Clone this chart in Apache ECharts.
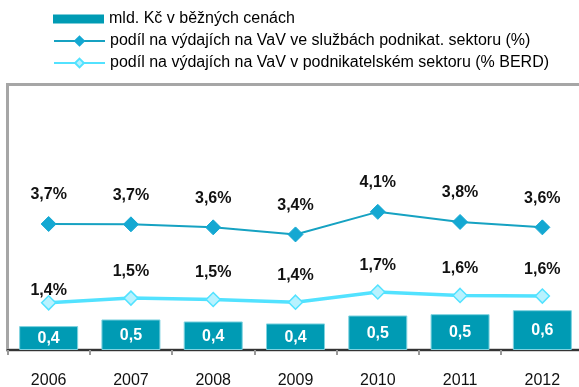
<!DOCTYPE html>
<html>
<head>
<meta charset="utf-8">
<script src="https://cdn.jsdelivr.net/npm/echarts@6/dist/echarts.min.js"></script>
<style>
  html, body { margin: 0; padding: 0; background: #fff; }
  #chart { width: 579px; height: 387px; }
</style>
</head>
<body>
<div id="chart"></div>
<script>
// Years on the category axis
const years = ['2006', '2007', '2008', '2009', '2010', '2011', '2012'];
// Business-sector R&D in services, bn CZK at current prices
const mldKc = [0.36, 0.46, 0.43, 0.40, 0.52, 0.54, 0.60];
// Share of R&D spending in business services (%)
const podilSluzby = [3.74, 3.73, 3.64, 3.43, 4.10, 3.80, 3.64];
// Share of business-sector R&D spending (% BERD)
const podilBerd = [1.40, 1.54, 1.50, 1.42, 1.72, 1.62, 1.60];

const seriesNames = [
  'mld. Kč v běžných cenách',
  'podíl na výdajích na VaV ve službách podnikat. sektoru (%)',
  'podíl na výdajích na VaV v podnikatelském sektoru (% BERD)'
];

const FONT = '"Liberation Sans", Arial, sans-serif';
const fmt = v => v.toFixed(1).replace('.', ',');

const chart = echarts.init(document.getElementById('chart'), null, { renderer: 'canvas' });

function legendAt(name, top, h, icon) {
  const leg = {
    data: [icon ? { name: name, icon: icon } : name],
    left: 53,
    top: top,
    itemWidth: 51,
    itemHeight: h,
    padding: 0,
    selectedMode: false,
    textStyle: { fontFamily: FONT, fontSize: 16, color: '#000' }
  };
  if (icon) leg.itemStyle = { borderWidth: 0 };
  return leg;
}

chart.setOption({
  animation: false,
  legend: [
    legendAt(seriesNames[0], 11, 9, 'rect'),
    legendAt(seriesNames[1], 33, 11),
    legendAt(seriesNames[2], 55, 11)
  ],
  grid: {
    left: 7.5, top: 84.5, width: 576, height: 265.5,
    outerBoundsMode: 'none',
    show: true, borderColor: '#a6a6a6', borderWidth: 3, backgroundColor: 'transparent'
  },
  xAxis: {
    type: 'category',
    data: years,
    boundaryGap: true,
    axisLine: { lineStyle: { color: '#333', width: 2 } },
    axisTick: { show: true, interval: 0, length: 5, lineStyle: { color: '#999', width: 2 } },
    axisLabel: { fontFamily: FONT, fontSize: 16, color: '#111', margin: 23 }
  },
  yAxis: [
    { type: 'value', min: 0, max: 4, show: false, splitLine: { show: false } },
    { type: 'value', min: 0, max: 7.88, show: false, splitLine: { show: false } }
  ],
  series: [
    {
      name: seriesNames[0],
      type: 'bar',
      yAxisIndex: 0,
      barWidth: 59,
      data: mldKc,
      itemStyle: { color: '#009bb4', borderColor: '#7fd3e0', borderWidth: 1 },
      label: {
        show: true, position: 'inside', offset: [0, 1],
        fontFamily: FONT, fontSize: 16, fontWeight: 'bold', color: '#fff',
        formatter: p => fmt(p.value)
      }
    },
    {
      name: seriesNames[1],
      type: 'line',
      yAxisIndex: 1,
      data: podilSluzby,
      symbol: 'diamond',
      symbolSize: 15,
      lineStyle: { color: '#16a2c2', width: 2 },
      itemStyle: { color: '#14a8d2', borderColor: '#14a8d2', borderWidth: 1 },
      label: {
        show: true, position: 'top', distance: 13,
        fontFamily: FONT, fontSize: 16, fontWeight: 'bold', color: '#111',
        formatter: p => fmt(p.value) + '%'
      },
      z: 3
    },
    {
      name: seriesNames[2],
      type: 'line',
      yAxisIndex: 1,
      data: podilBerd.map((v, i) => i === 0 ? { value: v, label: { distance: 0, offset: [0, 4] } } : v),
      symbol: 'diamond',
      symbolSize: 14,
      lineStyle: { color: '#52e2ff', width: 3.5 },
      itemStyle: { color: '#b8f2ff', borderColor: '#52e2ff', borderWidth: 1.5 },
      label: {
        show: true, position: 'top', distance: 11,
        fontFamily: FONT, fontSize: 16, fontWeight: 'bold', color: '#111',
        formatter: p => fmt(p.value) + '%'
      },
      z: 3
    }
  ]
});
</script>
</body>
</html>
